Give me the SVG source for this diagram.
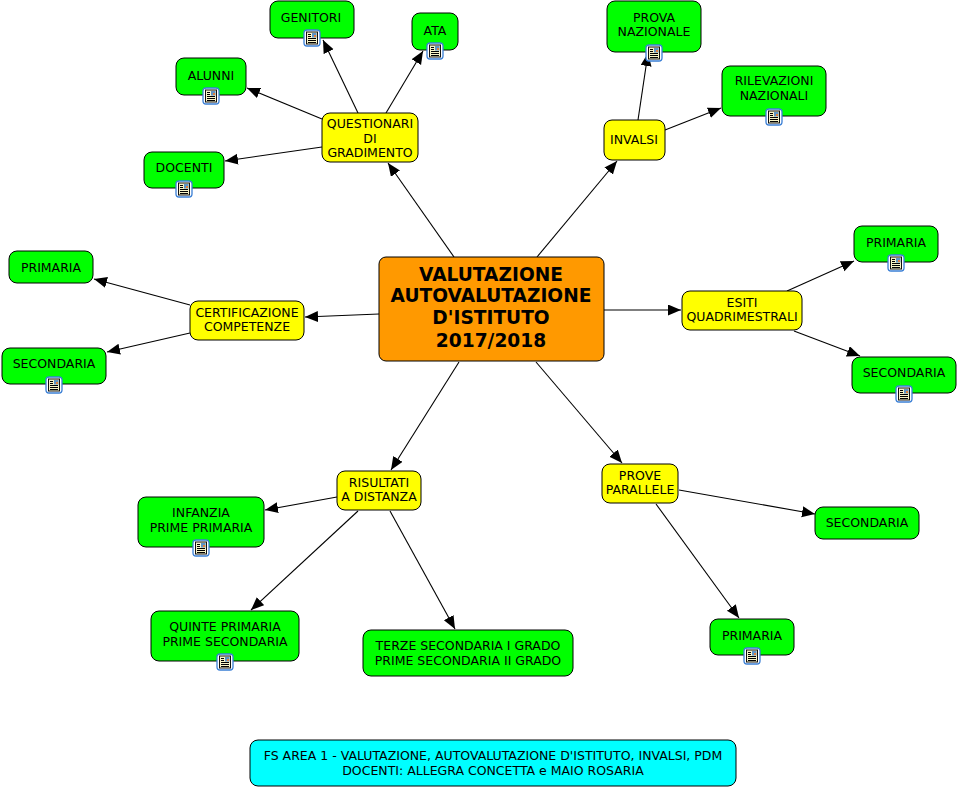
<svg xmlns="http://www.w3.org/2000/svg" width="959" height="789" viewBox="0 0 959 789">
<style>
text{font-family:"DejaVu Sans",Verdana,sans-serif;font-size:12.5px;fill:#000;text-anchor:middle}
.n{stroke:#000;stroke-width:1}
.g{fill:#00ff00}.y{fill:#ffff00}.o{fill:#ff9900}.c{fill:#00ffff}
#n-center text{font-size:18.6px;font-weight:bold}
#connectors line{stroke:#000;stroke-width:1.1;marker-end:url(#a)}
</style>
<defs>
<marker id="a" markerUnits="userSpaceOnUse" markerWidth="14" markerHeight="12" refX="13" refY="5.5" orient="auto"><path d="M0 0L13 5.5L0 11Z" fill="#000"/></marker>
<g id="i">
<rect x="-8" y="-8" width="16" height="16" rx="3" fill="#fff" stroke="#3a7fd5" stroke-width="1.3"/>
<rect x="-5.5" y="-6" width="11" height="12" fill="#f8f4c8" stroke="#111" stroke-width="1"/>
<path d="M-4 -3.5h3M-4 -1.5h3M-4 .5h8M-4 2.5h8M-4 4.5h8" stroke="#000" stroke-width="1"/>
<rect x="0" y="-5" width="4.5" height="4.5" fill="#5f93c4"/>
<rect x="2" y="-3" width="2" height="2" fill="#e0803a"/>
</g>
</defs>
<rect width="959" height="789" fill="#fff"/>
<g id="connectors">
<line x1="358" y1="113" x2="323" y2="40"/>
<line x1="386" y1="113" x2="423" y2="51"/>
<line x1="322" y1="119" x2="247" y2="88"/>
<line x1="322" y1="147" x2="225" y2="161"/>
<line x1="454" y1="257" x2="388" y2="163"/>
<line x1="537" y1="257" x2="617" y2="161"/>
<line x1="638" y1="120" x2="648" y2="53"/>
<line x1="665" y1="130" x2="721" y2="108"/>
<line x1="604" y1="310" x2="681" y2="310"/>
<line x1="787" y1="291" x2="854" y2="261"/>
<line x1="794" y1="331" x2="860" y2="356"/>
<line x1="379" y1="314" x2="305" y2="317"/>
<line x1="190" y1="305" x2="94" y2="279"/>
<line x1="190" y1="333" x2="107" y2="352"/>
<line x1="459" y1="362" x2="391" y2="470"/>
<line x1="536" y1="362" x2="622" y2="463"/>
<line x1="337" y1="497" x2="265" y2="510"/>
<line x1="358" y1="511" x2="251" y2="610"/>
<line x1="390" y1="511" x2="455" y2="629"/>
<line x1="679" y1="490" x2="815" y2="514"/>
<line x1="656" y1="504" x2="739" y2="618"/>
</g>
<g id="n-center"><rect class="n o" x="379" y="257" width="225" height="104" rx="7"/>
<text x="491" y="281">VALUTAZIONE</text><text x="491" y="302">AUTOVALUTAZIONE</text><text x="491" y="324">D'ISTITUTO</text><text x="491" y="347">2017/2018</text></g>
<g id="n-genitori"><rect class="n g" x="270" y="1" width="84" height="37" rx="8"/><text x="311" y="22">GENITORI</text><use href="#i" x="312" y="38"/></g>
<g id="n-ata"><rect class="n g" x="412" y="13" width="46" height="37" rx="8"/><text x="435" y="35">ATA</text><use href="#i" x="435" y="51"/></g>
<g id="n-alunni"><rect class="n g" x="176" y="58" width="70" height="37" rx="8"/><text x="211" y="80">ALUNNI</text><use href="#i" x="211" y="96"/></g>
<g id="n-docenti"><rect class="n g" x="144" y="152" width="80" height="36" rx="8"/><text x="184" y="172">DOCENTI</text><use href="#i" x="184" y="189"/></g>
<g id="n-questionari"><rect class="n y" x="322" y="113" width="96" height="49" rx="8"/><text x="370" y="128">QUESTIONARI</text><text x="370" y="143">DI</text><text x="370" y="157">GRADIMENTO</text></g>
<g id="n-invalsi"><rect class="n y" x="604" y="120" width="61" height="40" rx="8"/><text x="634" y="144">INVALSI</text></g>
<g id="n-prova"><rect class="n g" x="607" y="1" width="94" height="51" rx="8"/><text x="654" y="22">PROVA</text><text x="654" y="36">NAZIONALE</text><use href="#i" x="654" y="53"/></g>
<g id="n-rilevazioni"><rect class="n g" x="722" y="66" width="104" height="50" rx="8"/><text x="774" y="85">RILEVAZIONI</text><text x="774" y="100">NAZIONALI</text><use href="#i" x="774" y="117"/></g>
<g id="n-esiti"><rect class="n y" x="682" y="291" width="120" height="39" rx="8"/><text x="742" y="307">ESITI</text><text x="742" y="321">QUADRIMESTRALI</text></g>
<g id="n-prim1"><rect class="n g" x="854" y="226" width="84" height="36" rx="8"/><text x="896" y="247">PRIMARIA</text><use href="#i" x="896" y="263"/></g>
<g id="n-sec1"><rect class="n g" x="852" y="357" width="104" height="36" rx="8"/><text x="904" y="377">SECONDARIA</text><use href="#i" x="904" y="394"/></g>
<g id="n-cert"><rect class="n y" x="190" y="301" width="114" height="39" rx="8"/><text x="247" y="317">CERTIFICAZIONE</text><text x="247" y="331">COMPETENZE</text></g>
<g id="n-prim2"><rect class="n g" x="9" y="251" width="84" height="32" rx="8"/><text x="51" y="272">PRIMARIA</text></g>
<g id="n-sec2"><rect class="n g" x="2" y="348" width="104" height="36" rx="8"/><text x="54" y="368">SECONDARIA</text><use href="#i" x="54" y="385"/></g>
<g id="n-risultati"><rect class="n y" x="337" y="471" width="84" height="39" rx="8"/><text x="379" y="487">RISULTATI</text><text x="379" y="501">A DISTANZA</text></g>
<g id="n-infanzia"><rect class="n g" x="138" y="497" width="126" height="50" rx="8"/><text x="201" y="517">INFANZIA</text><text x="201" y="532">PRIME PRIMARIA</text><use href="#i" x="201" y="548"/></g>
<g id="n-quinte"><rect class="n g" x="151" y="611" width="148" height="50" rx="8"/><text x="225" y="631">QUINTE PRIMARIA</text><text x="225" y="646">PRIME SECONDARIA</text><use href="#i" x="225" y="662"/></g>
<g id="n-terze"><rect class="n g" x="363" y="630" width="210" height="46" rx="8"/><text x="468" y="650">TERZE SECONDARIA I GRADO</text><text x="468" y="665">PRIME SECONDARIA II GRADO</text></g>
<g id="n-prove"><rect class="n y" x="602" y="464" width="76" height="39" rx="8"/><text x="640" y="480">PROVE</text><text x="640" y="494">PARALLELE</text></g>
<g id="n-sec3"><rect class="n g" x="815" y="507" width="104" height="32" rx="8"/><text x="867" y="527">SECONDARIA</text></g>
<g id="n-prim3"><rect class="n g" x="710" y="619" width="84" height="36" rx="8"/><text x="752" y="640">PRIMARIA</text><use href="#i" x="752" y="656"/></g>
<g id="n-fs"><rect class="n c" x="250" y="740" width="486" height="46" rx="8"/><text x="493" y="760">FS AREA 1 - VALUTAZIONE, AUTOVALUTAZIONE D'ISTITUTO, INVALSI, PDM</text><text x="493" y="775">DOCENTI: ALLEGRA CONCETTA e MAIO ROSARIA</text></g>
</svg>
